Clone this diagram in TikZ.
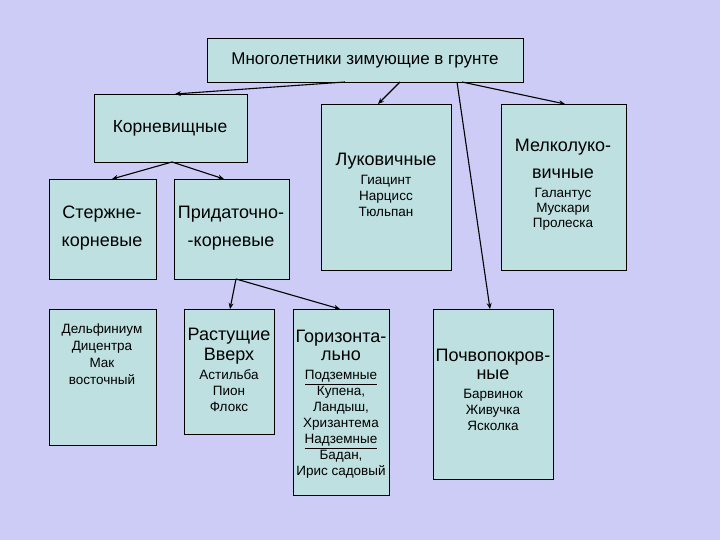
\documentclass[tikz,border=0pt]{standalone}
\usepackage{fontspec}
\setmainfont{Liberation Sans}
\usetikzlibrary{arrows.meta}
\definecolor{bg}{RGB}{204,204,246}
\definecolor{bx}{RGB}{190,224,224}
\newcommand{\hd}[1]{{\fontsize{18}{20}\selectfont #1}}
\begin{document}
\begin{tikzpicture}[x=1pt,y=-1pt,
  box/.style={draw=black,fill=bx,line width=0.7pt},
  arr/.style={-{Stealth[length=6pt,width=5pt]},line width=1.1pt},
  txt/.style={align=center,anchor=north,font=\fontsize{13.5}{16}\selectfont}]
\fill[bg] (0,0) rectangle (720,540);
\useasboundingbox (0,0) rectangle (720,540);
\draw[box] (207,38) rectangle (523,82);
\node[font=\fontsize{17}{20}\selectfont] (top) at (365,60) {Многолетники зимующие в грунте};
\coordinate (t1) at (345,82); \coordinate (t2) at (400,82);
\coordinate (t3) at (457,82); \coordinate (t4) at (462,82);
\draw[box] (94,94) rectangle (247,162);
\node[font=\fontsize{17.5}{20}\selectfont] (kor) at (170,128) {Корневищные};
\coordinate (kin) at (175,94); \coordinate (kout) at (172,162);
\draw[box] (321,104) rectangle (451,270);
\node[txt] (luk) at (386,150) {\hd{Луковичные}\\[3pt]Гиацинт\\Нарцисс\\Тюльпан};
\coordinate (lin) at (378,104);
\draw[box] (501,104) rectangle (626,270);
\node[txt,font=\fontsize{13.5}{15}\selectfont] (mel) at (563,136) {\hd{Мелколуко-}\\[12pt]\hd{вичные}\\[4pt]Галантус\\Мускари\\Пролеска};
\coordinate (min) at (565,104);
\draw[box] (49,179) rectangle (156,279);
\node[align=center,font=\fontsize{18}{28}\selectfont] (st) at (102,228) {Стержне-\\корневые};
\coordinate (sin) at (112,179);
\draw[box] (174,179) rectangle (289,279);
\node[align=center,font=\fontsize{18}{28}\selectfont] (pr) at (231,228) {Придаточно-\\-корневые};
\coordinate (pin) at (224,179); \coordinate (pout) at (236,279);
\draw[box] (49,309) rectangle (156,445);
\node[txt,font=\fontsize{13.5}{17}\selectfont] (del) at (102,320) {Дельфиниум\\Дицентра\\Мак\\восточный};
\draw[box] (184,309) rectangle (274,434);
\node[txt] (ras) at (229,325) {\hd{Растущие}\\[2pt]\hd{Вверх}\\[3pt]Астильба\\Пион\\Флокс};
\coordinate (rin) at (230,309);
\draw[box] (293,309) rectangle (389,495);
\node[txt] (gor) at (341,327) {\hd{Горизонта-}\\[2pt]\hd{льно}\\[3pt]\underline{Подземные}\\Купена,\\Ландыш,\\Хризантема\\\underline{Надземные}\\Бадан,\\Ирис садовый};
\coordinate (gin) at (340,309);
\draw[box] (433,309) rectangle (553,479);
\node[txt] (poch) at (493,346) {\hd{Почвопокров-}\\[2pt]\hd{ные}\\[3pt]Барвинок\\Живучка\\Ясколка};
\coordinate (poin) at (490,309);
\draw[arr] (t1) -- (kin);
\draw[arr] (t2) -- (lin);
\draw[arr] (t3) -- (poin);
\draw[arr] (t4) -- (min);
\draw[arr] (kout) -- (sin);
\draw[arr] (kout) -- (pin);
\draw[arr] (pout) -- (rin);
\draw[arr] (pout) -- (gin);
\end{tikzpicture}
\end{document}
